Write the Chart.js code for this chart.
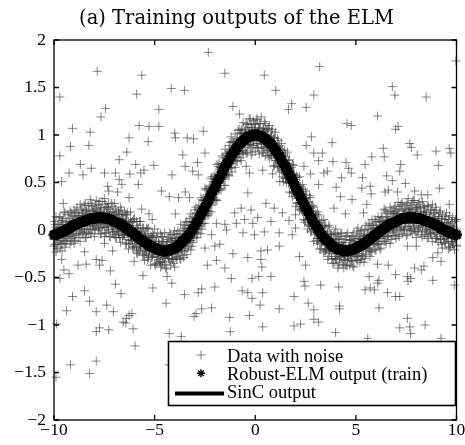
<!DOCTYPE html>
<html>
<head>
<meta charset="utf-8">
<title>Training outputs of the ELM</title>
<script src="https://cdn.jsdelivr.net/npm/chart.js@4.4.1/dist/chart.umd.min.js"></script>
<style>
  html, body { margin: 0; padding: 0; background: #fff; }
  #wrap { width: 465px; height: 445px; }
</style>
</head>
<body>
<div id="wrap"><canvas id="elmChart" width="465" height="445"></canvas></div>
<script>
// Training inputs of the SinC set
const trainX = [
  -10, -9.9, -9.8, -9.7, -9.6, -9.5, -9.4, -9.3, -9.2, -9.1, -9, -8.9, -8.8, -8.7, -8.6, -8.5, -8.4, -8.3, -8.2, -8.1,
  -8, -7.9, -7.8, -7.7, -7.6, -7.5, -7.4, -7.3, -7.2, -7.1, -7, -6.9, -6.8, -6.7, -6.6, -6.5, -6.4, -6.3, -6.2, -6.1,
  -6, -5.9, -5.8, -5.7, -5.6, -5.5, -5.4, -5.3, -5.2, -5.1, -5, -4.9, -4.8, -4.7, -4.6, -4.5, -4.4, -4.3, -4.2, -4.1,
  -4, -3.9, -3.8, -3.7, -3.6, -3.5, -3.4, -3.3, -3.2, -3.1, -3, -2.9, -2.8, -2.7, -2.6, -2.5, -2.4, -2.3, -2.2, -2.1,
  -2, -1.9, -1.8, -1.7, -1.6, -1.5, -1.4, -1.3, -1.2, -1.1, -1, -0.9, -0.8, -0.7, -0.6, -0.5, -0.4, -0.3, -0.2, -0.1,
  0,
  0.1, 0.2, 0.3, 0.4, 0.5, 0.6, 0.7, 0.8, 0.9, 1, 1.1, 1.2, 1.3, 1.4, 1.5, 1.6, 1.7, 1.8, 1.9, 2,
  2.1, 2.2, 2.3, 2.4, 2.5, 2.6, 2.7, 2.8, 2.9, 3, 3.1, 3.2, 3.3, 3.4, 3.5, 3.6, 3.7, 3.8, 3.9, 4,
  4.1, 4.2, 4.3, 4.4, 4.5, 4.6, 4.7, 4.8, 4.9, 5, 5.1, 5.2, 5.3, 5.4, 5.5, 5.6, 5.7, 5.8, 5.9, 6,
  6.1, 6.2, 6.3, 6.4, 6.5, 6.6, 6.7, 6.8, 6.9, 7, 7.1, 7.2, 7.3, 7.4, 7.5, 7.6, 7.7, 7.8, 7.9, 8,
  8.1, 8.2, 8.3, 8.4, 8.5, 8.6, 8.7, 8.8, 8.9, 9, 9.1, 9.2, 9.3, 9.4, 9.5, 9.6, 9.7, 9.8, 9.9, 10
];

// Noisy targets, four samples per input
const noisyA = [
  .09, .14, .06, .14, .1, .19, .09, .16, .2, .15, .21, .19, .15, .27, .21, .26, .2, .26, .32, .25,
  .21, .31, .27, .24, .3, .33, .24, .28, .19, .25, .28, .18, .2, .24, .16, .19, .16, .09, .19, .09,
  .12, .09, .02, .09, .02, -.05, .02, .02, -.06, -.04, .01, -.08, -.12, -.04, -.07, -.03, -.12, -.08, -.05, -.09,
  -.01, -.04, -.08, .06, 0, .05, .09, .05, .17, .14, .21, .17, .26, .34, .31, .44, .43, .44, .54, .51,
  .58, .69, .7, .66, .76, .85, .81, .89, .98, .93, 1.01, .96, 1.06, 1.05, 1.13, 1.06, 1.11, 1.17, 1.11, 1.15,
  1.11,
  1.17, 1.12, 1.19, 1.06, 1.12, 1.06, 1.1, 1.04, .97, 1.03, .96, .89, .91, .78, .8, .82, .74, .66, .68, .55,
  .55, .56, .43, .43, .41, .29, .36, .25, .24, .17, .19, .08, .1, .11, .04, -.04, .03, -.05, -.05, .01,
  -.04, -.09, -.03, -.13, -.07, -.03, -.1, -.07, -.03, -.09, .02, -.04, 0, -.06, .05, .01, .05, .11, .05, .09,
  .14, .09, .13, .22, .19, .14, .24, .19, .23, .2, .29, .25, .29, .2, .26, .33, .23, .29, .31, .24,
  .27, .23, .3, .24, .18, .26, .21, .27, .18, .21, .14, .2, .16, .11, .18, .11, .05, .13, .09, .11
];
const noisyB = [
  -.02, .03, -.04, .03, .08, .01, .05, 0, .09, .08, .14, .07, .13, .06, .17, .12, .2, .16, .12, .19,
  .16, .22, .15, .19, .12, .21, .15, .22, .12, .15, .16, .08, .16, .1, .11, .01, .1, .02, .09, .02,
  -.04, .01, -.05, -.01, -.12, -.07, -.1, -.08, -.17, -.08, -.14, -.18, -.14, -.23, -.13, -.19, -.16, -.2, -.13, -.16,
  -.09, -.18, -.11, -.07, -.1, -.01, -.09, .01, .01, .09, .09, .18, .13, .23, .25, .22, .37, .34, .43, .44,
  .53, .5, .64, .62, .69, .68, .75, .83, .77, .87, .87, .95, .92, 1.02, .98, 1.03, .97, 1.04, 1.08, 1.01,
  1.06,
  1.03, 1.07, .98, 1.07, 1, 1.01, .94, .99, .92, .84, .87, .86, .77, .68, .77, .66, .65, .55, .59, .5,
  .43, .43, .4, .28, .34, .23, .23, .11, .13, .14, .05, -.01, .03, -.02, -.08, -.02, -.11, -.09, -.18, -.1,
  -.15, -.2, -.13, -.18, -.16, -.24, -.11, -.18, -.13, -.17, -.09, -.12, -.16, -.06, -.09, -.05, -.09, .02, -.03, .02,
  -.04, .08, .05, .04, .11, .09, .12, .07, .18, .12, .17, .12, .21, .17, .11, .21, .17, .19, .15, .22,
  .15, .19, .11, .19, .14, .1, .16, .11, .12, .04, .14, .05, .08, .02, .08, .03, -.03, .04, -.01, .01
];
const noisyC = [
  -.1, -.15, -.06, -.11, -.14, -.05, -.07, .01, -.07, .01, -.06, 0, .06, -.02, .04, .01, -.02, .08, .05, .1,
  .03, .09, .02, .07, .13, .03, .07, .04, .1, -.02, .06, .01, -.02, .04, -.06, -.03, -.02, -.1, -.01, -.11,
  -.1, -.18, -.11, -.17, -.12, -.22, -.2, -.27, -.19, -.28, -.23, -.28, -.21, -.33, -.27, -.29, -.25, -.3, -.22, -.31,
  -.25, -.28, -.18, -.22, -.16, -.22, -.13, -.05, -.11, -.02, -.02, -.03, .11, .06, .14, .22, .2, .2, .33, .32,
  .4, .5, .43, .55, .55, .57, .69, .68, .66, .79, .76, .83, .81, .87, .83, .96, .9, .96, .89, .94,
  .98,
  .91, .95, .87, .9, .96, .84, .87, .82, .86, .73, .78, .72, .65, .68, .55, .57, .51, .54, .4, .41,
  .33, .36, .21, .22, .21, .11, .04, .1, .01, 0, -.09, -.02, -.13, -.12, -.21, -.13, -.2, -.25, -.21, -.31,
  -.25, -.28, -.23, -.32, -.22, -.3, -.25, -.32, -.26, -.2, -.27, -.2, -.28, -.19, -.2, -.13, -.2, -.08, -.14, -.09,
  -.14, -.07, -.01, -.07, 0, -.07, -.01, .02, .06, -.01, .1, .03, .08, .01, .07, .12, .04, .1, .01, .07,
  .05, .1, .01, .1, .01, .05, -.03, .01, .05, -.04, .01, -.1, -.04, -.07, -.03, -.12, -.03, -.12, -.09, -.16
];
const noisyD = [
  -.17, -.23, -.13, -.19, -.22, -.12, -.14, -.07, -.15, -.09, -.14, -.04, -.08, -.12, -.03, 0, -.08, -.03, -.04, .01,
  -.07, .05, 0, -.04, .03, -.07, -.03, 0, -.07, .01, -.05, -.08, -.04, -.13, -.08, -.05, -.15, -.2, -.11, -.18,
  -.17, -.24, -.22, -.19, -.27, -.32, -.25, -.29, -.37, -.26, -.36, -.35, -.31, -.39, -.34, -.36, -.41, -.3, -.37, -.31,
  -.39, -.31, -.24, -.31, -.27, -.2, -.26, -.17, -.21, -.13, -.04, -.08, .01, -.04, .07, .07, .2, .17, .19, .31,
  .31, .31, .42, .42, .53, .47, .59, .57, .65, .73, .66, .72, .8, .73, .8, .84, .81, .9, .79, .89,
  .83,
  .87, .8, .91, .82, .78, .84, .76, .78, .67, .75, .67, .61, .63, .51, .54, .54, .4, .39, .4, .25,
  .29, .21, .23, .11, .1, .01, .05, -.01, -.12, -.03, -.14, -.2, -.15, -.24, -.22, -.31, -.23, -.3, -.35, -.3,
  -.4, -.34, -.29, -.4, -.37, -.32, -.37, -.33, -.39, -.28, -.32, -.34, -.27, -.34, -.26, -.19, -.28, -.23, -.16, -.21,
  -.15, -.2, -.09, -.12, -.14, -.06, -.14, -.06, 0, -.09, -.05, .01, -.04, 0, -.06, .04, -.01, -.04, .02, -.08,
  -.01, .04, -.07, -.05, -.01, -.07, -.04, -.12, -.03, -.09, -.13, -.09, -.19, -.13, -.09, -.2, -.18, -.14, -.21, -.17
];

// Inputs lying between the ones above, with three noisy samples each
const midX = [
  -9.95, -9.85, -9.75, -9.65, -9.55, -9.45, -9.35, -9.25, -9.15, -9.05, -8.95, -8.85, -8.75, -8.65, -8.55, -8.45, -8.35, -8.25, -8.15, -8.05,
  -7.95, -7.85, -7.75, -7.65, -7.55, -7.45, -7.35, -7.25, -7.15, -7.05, -6.95, -6.85, -6.75, -6.65, -6.55, -6.45, -6.35, -6.25, -6.15, -6.05,
  -5.95, -5.85, -5.75, -5.65, -5.55, -5.45, -5.35, -5.25, -5.15, -5.05, -4.95, -4.85, -4.75, -4.65, -4.55, -4.45, -4.35, -4.25, -4.15, -4.05,
  -3.95, -3.85, -3.75, -3.65, -3.55, -3.45, -3.35, -3.25, -3.15, -3.05, -2.95, -2.85, -2.75, -2.65, -2.55, -2.45, -2.35, -2.25, -2.15, -2.05,
  -1.95, -1.85, -1.75, -1.65, -1.55, -1.45, -1.35, -1.25, -1.15, -1.05, -0.95, -0.85, -0.75, -0.65, -0.55, -0.45, -0.35, -0.25, -0.15, -0.05,
  0.05, 0.15, 0.25, 0.35, 0.45, 0.55, 0.65, 0.75, 0.85, 0.95, 1.05, 1.15, 1.25, 1.35, 1.45, 1.55, 1.65, 1.75, 1.85, 1.95,
  2.05, 2.15, 2.25, 2.35, 2.45, 2.55, 2.65, 2.75, 2.85, 2.95, 3.05, 3.15, 3.25, 3.35, 3.45, 3.55, 3.65, 3.75, 3.85, 3.95,
  4.05, 4.15, 4.25, 4.35, 4.45, 4.55, 4.65, 4.75, 4.85, 4.95, 5.05, 5.15, 5.25, 5.35, 5.45, 5.55, 5.65, 5.75, 5.85, 5.95,
  6.05, 6.15, 6.25, 6.35, 6.45, 6.55, 6.65, 6.75, 6.85, 6.95, 7.05, 7.15, 7.25, 7.35, 7.45, 7.55, 7.65, 7.75, 7.85, 7.95,
  8.05, 8.15, 8.25, 8.35, 8.45, 8.55, 8.65, 8.75, 8.85, 8.95, 9.05, 9.15, 9.25, 9.35, 9.45, 9.55, 9.65, 9.75, 9.85, 9.95
];
const noisyE = [
  .06, .01, .13, .06, .12, .18, .06, .12, .18, .08, .18, .24, .15, .22, .18, .28, .16, .22, .28, .2,
  .26, .19, .3, .23, .17, .27, .24, .18, .28, .19, .22, .12, .17, .21, .12, .16, .18, .05, .08, .11,
  -.01, .05, .09, -.03, .02, -.04, .01, -.11, -.07, -.06, -.12, -.03, -.15, -.07, -.12, -.18, -.1, -.03, -.11, -.05,
  -.11, -.01, -.04, -.08, .02, .08, .02, .12, .09, .09, .24, .22, .18, .32, .31, .42, .37, .46, .56, .56,
  .53, .67, .66, .78, .72, .8, .78, .92, .93, .92, .9, 1.05, 1.02, 1.06, 1.02, 1.12, 1.08, 1.17, 1.06, 1.12,
  1.16, 1.08, 1.12, 1.03, 1.14, 1.05, 1.07, .98, 1.06, .97, .87, .94, .85, .84, .84, .7, .73, .64, .69, .58,
  .57, .44, .46, .48, .33, .37, .3, .23, .26, .1, .16, .16, .05, .04, .05, -.05, .05, -.04, -.12, -.03,
  -.1, -.07, -.04, -.16, -.1, -.06, -.18, -.11, -.06, -.12, -.01, -.07, -.01, -.1, 0, -.05, .07, 0, .05, .11,
  .02, .09, .14, .09, .21, .17, .1, .2, .17, .25, .17, .22, .27, .16, .23, .28, .22, .26, .31, .21,
  .24, .29, .18, .25, .19, .25, .13, .21, .18, .24, .1, .18, .12, .04, .14, .07, .15, .09, .03, .11
];
const noisyF = [
  -.03, -.08, .02, -.03, .02, -.06, .04, .02, 0, .1, .04, .08, .03, .11, .08, .15, .07, .13, .12, .06,
  .17, .11, .19, .08, .14, .09, .15, .1, .15, .04, .1, .07, .02, .11, .02, .07, -.04, 0, -.05, -.01,
  -.06, -.02, -.15, -.08, -.15, -.09, -.15, -.21, -.12, -.21, -.17, -.24, -.2, -.17, -.23, -.28, -.2, -.17, -.23, -.19,
  -.12, -.21, -.14, -.15, -.06, -.14, -.03, -.03, -.07, .05, .1, .09, .11, .24, .18, .27, .35, .33, .42, .38,
  .48, .56, .53, .66, .58, .7, .71, .81, .75, .86, .87, .83, .97, .91, .95, 1.01, .95, .93, 1.02, 1.05,
  .98, 1.03, .94, .99, 1.03, .91, .93, .95, .87, .8, .88, .81, .73, .75, .63, .7, .61, .54, .56, .44,
  .48, .38, .37, .24, .3, .22, .15, .2, .05, .07, .06, -.03, .02, -.1, -.1, -.09, -.19, -.11, -.17, -.15,
  -.22, -.14, -.23, -.18, -.27, -.21, -.17, -.25, -.2, -.17, -.25, -.16, -.1, -.16, -.16, -.08, -.15, -.08, -.02, -.07,
  -.03, -.07, .03, .01, .01, .1, .01, .09, .01, .1, .15, .07, .11, .16, .07, .14, .19, .11, .09, .16,
  .16, .12, .07, .16, .09, .03, .11, .09, .04, .12, .02, .07, -.03, .02, 0, -.05, .03, -.09, -.01, -.04
];
const noisyG = [
  -.15, -.2, -.08, -.15, -.09, -.18, -.11, -.04, -.12, -.05, -.11, .03, -.04, .01, -.05, -.08, .05, .01, -.04, .04,
  0, .09, .02, -.04, .06, -.03, .03, -.07, .05, -.02, -.08, -.01, -.08, -.01, -.06, -.14, -.03, -.14, -.11, -.19,
  -.12, -.25, -.21, -.15, -.26, -.23, -.31, -.22, -.29, -.23, -.37, -.29, -.34, -.37, -.3, -.4, -.27, -.33, -.3, -.35,
  -.29, -.23, -.3, -.22, -.29, -.13, -.19, -.11, -.17, -.09, .01, -.04, .04, .01, .15, .15, .15, .31, .26, .34,
  .32, .44, .44, .55, .47, .58, .58, .7, .61, .74, .73, .81, .76, .82, .91, .81, .9, .87, .82, .94,
  .91, .86, .95, .81, .86, .88, .78, .79, .83, .68, .73, .66, .7, .56, .6, .5, .49, .52, .35, .39,
  .28, .34, .22, .2, .08, .15, .06, -.02, .06, -.05, -.11, -.09, -.2, -.12, -.22, -.2, -.28, -.2, -.35, -.28,
  -.31, -.37, -.28, -.36, -.31, -.38, -.27, -.32, -.38, -.28, -.32, -.22, -.31, -.25, -.3, -.18, -.22, -.23, -.14, -.21,
  -.12, -.15, -.19, -.05, -.12, -.07, .01, -.1, -.03, -.06, .03, -.07, .02, 0, .07, -.05, .02, 0, .07, -.02,
  -.02, .03, -.05, .07, -.02, -.09, 0, -.05, .01, -.09, -.07, -.02, -.15, -.1, -.14, -.08, -.18, -.12, -.16, -.09
];

// Outliers mixed into the training targets
const outliers = [
  [-7.85, 1.67], [-5.64, 1.63], [-9.71, 1.4], [-4.17, 1.49], [-3.52, 1.47], [-5.89, 1.43], [-7.44, 1.28], [-7.66, 1.19],
  [-4.79, 1.27], [-9.08, 1.07], [-8.2, 1.03], [-5.77, 1.1], [-5.28, 1.09], [-4.79, 1.09], [-6.27, .97], [-5.32, .93],
  [-4, 1.02], [-3.97, .97], [-3.38, .97], [-9.18, .88], [-8.27, .89], [-9.71, .78], [-6.38, .82], [-3.6, .79],
  [-8.69, .69], [-8.15, .65], [-6.76, .74], [-5.94, .69], [-5.53, .63], [-5.04, .68], [-3.48, .67], [-9.25, .6],
  [-8.56, .58], [-7.49, .6], [-6.95, .6], [-6.23, .59], [-5.69, .6], [-4.14, .58], [-9.62, .51], [-6.76, .53],
  [-6.63, .48], [-5.81, .48], [-7.33, .46], [-7.28, .41], [-6.84, .4], [-4.66, .41], [-3.48, .4], [-6.27, .34],
  [-4.27, .35], [-3.81, .34], [-5.64, .22], [-5.28, .17], [-5.12, .11], [-3.97, .17], [-9.54, .28],
  [-2.33, 1.87], [-1.51, 1.65], [.45, 1.63], [1.02, 1.47], [3.2, 1.72], [2.91, 1.42], [-1.11, 1.3], [-.78, 1.22],
  [1.81, 1.33], [1.65, 1.27], [2.53, 1.29], [-2.58, 1.04], [-3.07, .96], [2.79, .98], [2.53, .89], [-2.5, .81],
  [-2.87, .71], [-3.11, .62], [-2.83, .58], [2.91, .81], [3.15, .73], [2.42, .67], [2.74, .59], [-.45, .67],
  [-.29, .6], [.37, .63], [.86, .59], [1.22, .51], [-.37, .39], [.53, .28], [.94, .23], [1.35, .18],
  [-.7, .23], [-.21, .21], [-1.02, .18], [.12, .13], [-.53, .11], [-.12, .07], [-.94, .07], [-1.51, .06],
  [.78, .09], [1.68, .1], [2, .16], [-3.27, .34], [-1.93, .07], [2, .02], [3.15, .48], [2.74, .34],
  [6.81, 1.51], [6.94, 1.42], [8.49, 1.4], [9.97, 1.78], [6.08, 1.2], [4.56, 1.12], [4.77, 1.1], [7.1, 1.09],
  [6.97, 1.06], [3.82, .92], [7.68, .91], [7.76, .87], [6.36, .86], [3.33, .81], [8.05, .79], [8.98, .83],
  [9.64, .86], [9.72, .81], [6.41, .77], [5.79, .77], [3.86, .72], [4.51, .71], [5.46, .69], [7.23, .69],
  [9.1, .68], [4.64, .65], [7.18, .62], [3.41, .6], [3.58, .62], [4.77, .6], [4.29, .55], [5.33, .55],
  [6.53, .57], [6.81, .52], [7.46, .49], [4.02, .45], [5.3, .44], [5.71, .46], [6.61, .42], [9.15, .44],
  [5.76, .38], [6.45, .4], [7.07, .4], [7.92, .41], [4.24, .35], [4.81, .32], [3.91, .23], [5.54, .27],
  [9.64, .27], [4.48, .17], [5.38, .18], [8.25, .37], [8.57, .37],
  [-8.48, -.23], [-7.09, -.22], [-7.49, -.14], [-9.62, -.31], [-8.81, -.37], [-8.4, -.36], [-7.9, -.31], [-7.61, -.32],
  [-7.74, -.37], [-9.51, -.42], [-9.25, -.46], [-9.71, -.51], [-7.2, -.43], [-6.02, -.33], [-5.58, -.48], [-4.38, -.49],
  [-4.14, -.56], [-6.95, -.57], [-5.09, -.61], [-8.48, -.64], [-9.08, -.7], [-6.67, -.67], [-8.23, -.75], [-3.52, -.68],
  [-7.38, -.79], [-4.43, -.77], [-9.38, -.85], [-7.9, -.86], [-7.05, -.86], [-6.27, -.9], [-6.4, -.93], [-6.56, -.97],
  [-6.43, -.98], [-6.07, -1.04], [-7.74, -1.03], [-7.9, -1.07], [-7.28, -1.05], [-4.27, -1.09], [-3.68, -1.12], [-5.97, -1.22],
  [-9.18, -1.42], [-7.9, -1.38], [-8.23, -1.51], [-9.9, -1.55], [-4.27, -1.42], [-9.87, -.99], [-6.13, -.88],
  [-2.17, -.05], [-1.43, 0], [-.61, -.03], [-.04, -.05], [.45, -.02], [1.19, -.03], [1.84, -.05], [-2.5, -.19],
  [-2.01, -.17], [-1.76, -.15], [-1.11, -.25], [-.37, -.29], [.28, -.22], [.61, -.21], [.28, -.31], [1.19, -.17],
  [2.2, -.28], [2.5, -.37], [-2.38, -.37], [-1.93, -.32], [-1.51, -.4], [.33, -.39], [-1.19, -.51], [-.16, -.51],
  [.17, -.49], [.78, -.49], [2.42, -.54], [2.47, -.59], [-2.01, -.6], [-2.66, -.62], [-2.83, -.66], [-.65, -.64],
  [-.37, -.66], [-.16, -.72], [.37, -.66], [1.93, -.7], [.24, -.79], [1.19, -.83], [2.63, -.77], [2.91, -.84],
  [-2.17, -.82], [-2.66, -.83], [-2.94, -.88], [-1.27, -.92], [-.29, -.9], [-3.04, -.91], [.37, -1.02], [-1.24, -1.07],
  [1.93, -1.01], [2.25, -.99], [2.91, -.94], [3.15, -.97],
  [7.56, -.17], [8, -.17], [8.82, -.29], [9.23, -.33], [9.07, -.24], [6.08, -.36], [6.61, -.37], [5.66, -.49],
  [6.15, -.53], [6.08, -.56], [6.97, -.47], [7.92, -.4], [8.25, -.42], [8.38, -.38], [7.56, -.49], [7.72, -.51],
  [7.59, -.54], [8.82, -.53], [3.25, -.58], [4.15, -.6], [5.46, -.63], [5.71, -.61], [5.92, -.63], [6.57, -.66],
  [6.97, -.7], [7.18, -.7], [4.19, -.8], [4.19, -.83], [6.15, -.82], [7.56, -.93], [7.18, -1.03], [7.68, -1.02],
  [7.72, -1.09], [8.44, -1], [3.99, -1.08], [5.59, -1.14], [9.23, -1.14], [9.89, -.58]
];

// Robust-ELM predictions at the training inputs
const elmOutput = [
  -.05, -.05, -.04, -.03, -.02, -.01, 0, .01, .02, .04, .05, .06, .07, .08, .09, .09, .1, .11, .12, .12,
  .12, .13, .13, .13, .13, .13, .12, .12, .11, .1, .09, .08, .07, .06, .05, .03, .02, 0, -.01, -.03,
  -.05, -.06, -.08, -.1, -.11, -.13, -.14, -.16, -.17, -.18, -.19, -.2, -.21, -.21, -.22, -.22, -.22, -.21, -.21, -.2,
  -.19, -.18, -.16, -.14, -.12, -.1, -.08, -.05, -.02, .01, .05, .08, .12, .16, .2, .24, .28, .32, .37, .41,
  .45, .5, .54, .58, .62, .67, .7, .74, .78, .81, .84, .87, .9, .92, .94, .96, .97, .99, .99, 1,
  1,
  1, .99, .99, .97, .96, .94, .92, .9, .87, .84, .81, .78, .74, .7, .67, .62, .58, .54, .5, .45,
  .41, .37, .32, .28, .24, .2, .16, .12, .08, .05, .01, -.02, -.05, -.08, -.1, -.12, -.14, -.16, -.18, -.19,
  -.2, -.21, -.21, -.22, -.22, -.22, -.21, -.21, -.2, -.19, -.18, -.17, -.16, -.14, -.13, -.11, -.1, -.08, -.06, -.05,
  -.03, -.01, 0, .02, .03, .05, .06, .07, .08, .09, .1, .11, .12, .12, .13, .13, .13, .13, .13, .12,
  .12, .12, .11, .1, .09, .09, .08, .07, .06, .05, .04, .02, .01, 0, -.01, -.02, -.03, -.04, -.05, -.05
];

// Clean SinC curve
const sincX = [
  -10, -9.8, -9.6, -9.4, -9.2, -9, -8.8, -8.6, -8.4, -8.2, -8, -7.8, -7.6, -7.4, -7.2, -7, -6.8,
  -6.6, -6.4, -6.2, -6, -5.8, -5.6, -5.4, -5.2, -5, -4.8, -4.6, -4.4, -4.2, -4, -3.8, -3.6, -3.4,
  -3.2, -3, -2.8, -2.6, -2.4, -2.2, -2, -1.8, -1.6, -1.4, -1.2, -1, -0.8, -0.6, -0.4, -0.2, 0,
  0.2, 0.4, 0.6, 0.8, 1, 1.2, 1.4, 1.6, 1.8, 2, 2.2, 2.4, 2.6, 2.8, 3, 3.2, 3.4,
  3.6, 3.8, 4, 4.2, 4.4, 4.6, 4.8, 5, 5.2, 5.4, 5.6, 5.8, 6, 6.2, 6.4, 6.6, 6.8,
  7, 7.2, 7.4, 7.6, 7.8, 8, 8.2, 8.4, 8.6, 8.8, 9, 9.2, 9.4, 9.6, 9.8, 10
];
const sincY = [
  -.054, -.037, -.018, .003, .024, .046, .066, .085, .102, .115, .124, .128, .127, .121, .11, .094, .073,
  .047, .018, -.013, -.047, -.08, -.113, -.143, -.17, -.192, -.208, -.216, -.216, -.208, -.189, -.161, -.123, -.075,
  -.018, .047, .12, .198, .281, .367, .455, .541, .625, .704, .777, .841, .897, .941, .974, .993, 1,
  .993, .974, .941, .897, .841, .777, .704, .625, .541, .455, .367, .281, .198, .12, .047, -.018, -.075,
  -.123, -.161, -.189, -.208, -.216, -.216, -.208, -.192, -.17, -.143, -.113, -.08, -.047, -.013, .018, .047, .073,
  .094, .11, .121, .127, .128, .124, .115, .102, .085, .066, .046, .024, .003, -.018, -.037, -.054
];

// Axis ticks
const xTicks = [-10, -5, 0, 5, 10];
const xTickLabels = ['\u221210', '\u22125', '0', '5', '10'];
const yTicks = [-2, -1.5, -1, -0.5, 0, 0.5, 1, 1.5, 2];
const yTickLabels = ['\u22122', '\u22121.5', '\u22121', '\u22120.5', '0', '0.5', '1', '1.5', '2'];

const legendLabels = ['Data with noise', 'Robust-ELM output (train)', 'SinC output'];

// translucent grey so that crowded crosses build up a darker band
const noiseColor = 'rgba(60, 60, 60, 0.62)';
const serif = '"Liberation Serif", "Times New Roman", serif';

// Build point lists for the datasets
const noisyPoints = [];
[noisyA, noisyB, noisyC, noisyD].forEach(series => {
    series.forEach((y, i) => noisyPoints.push({ x: trainX[i], y: y }));
});
[noisyE, noisyF, noisyG].forEach(series => {
    series.forEach((y, i) => noisyPoints.push({ x: midX[i], y: y }));
});
outliers.forEach(p => noisyPoints.push({ x: p[0], y: p[1] }));
const elmPoints = trainX.map((x, i) => ({ x: x, y: elmOutput[i] }));
const sincPoints = sincX.map((x, i) => ({ x: x, y: sincY[i] }));

// Axes box with inward tick marks on all four sides
const frameTicks = {
    id: 'frameTicks',
    afterDatasetsDraw(chart) {
        const { ctx, chartArea: a, scales } = chart;
        const len = 5;
        ctx.save();
        ctx.strokeStyle = '#000';
        ctx.lineWidth = 1.3;
        ctx.strokeRect(a.left, a.top, a.right - a.left, a.bottom - a.top);
        ctx.beginPath();
        xTicks.forEach(v => {
            const px = scales.x.getPixelForValue(v);
            ctx.moveTo(px, a.bottom); ctx.lineTo(px, a.bottom - len);
            ctx.moveTo(px, a.top); ctx.lineTo(px, a.top + len);
        });
        yTicks.forEach(v => {
            const py = scales.y.getPixelForValue(v);
            ctx.moveTo(a.left, py); ctx.lineTo(a.left + len, py);
            ctx.moveTo(a.right, py); ctx.lineTo(a.right - len, py);
        });
        ctx.stroke();
        ctx.restore();
    }
};

// Boxed legend in the lower right corner of the plot
const boxedLegend = {
    id: 'boxedLegend',
    afterDraw(chart) {
        const { ctx, chartArea: a } = chart;
        const right = a.right - 1;
        const bottom = a.bottom - 14.5;
        const left = right - 287;
        const top = bottom - 64;
        const mx = left + 32.5;
        ctx.save();
        ctx.fillStyle = '#fff';
        ctx.fillRect(left, top, right - left, bottom - top);
        ctx.strokeStyle = '#000';
        ctx.lineWidth = 1.6;
        ctx.strokeRect(left, top, right - left, bottom - top);

        // '+' sample
        let cy = top + 13.5;
        ctx.strokeStyle = noiseColor;
        ctx.lineWidth = 1;
        ctx.beginPath();
        ctx.moveTo(mx - 4.5, cy); ctx.lineTo(mx + 4.5, cy);
        ctx.moveTo(mx, cy - 4.5); ctx.lineTo(mx, cy + 4.5);
        ctx.stroke();

        // asterisk sample
        cy = top + 31.8;
        ctx.strokeStyle = '#000';
        ctx.lineWidth = 1.4;
        ctx.beginPath();
        for (let k = 0; k < 4; k++) {
            const ang = k * Math.PI / 4;
            const dx = Math.cos(ang) * 4, dy = Math.sin(ang) * 4;
            ctx.moveTo(mx - dx, cy - dy); ctx.lineTo(mx + dx, cy + dy);
        }
        ctx.stroke();

        // line sample
        cy = top + 52;
        ctx.lineWidth = 4;
        ctx.beginPath();
        ctx.moveTo(left + 6.5, cy); ctx.lineTo(left + 55.5, cy);
        ctx.stroke();

        ctx.fillStyle = '#000';
        ctx.font = '18.5px ' + serif;
        ctx.textBaseline = 'alphabetic';
        ctx.textAlign = 'left';
        legendLabels.forEach((txt, i) => ctx.fillText(txt, left + 58.5, top + 20.5 + i * 18));
        ctx.restore();
    }
};

const chartConfig = {
    type: 'scatter',
    data: {
        datasets: [
            {
                label: legendLabels[2],
                data: sincPoints,
                showLine: true,
                borderColor: '#000',
                borderWidth: 4,
                pointRadius: 0,
                tension: 0.4,
                order: 1
            },
            {
                label: legendLabels[1],
                data: elmPoints,
                pointStyle: 'star',
                pointRadius: 5.5,
                borderColor: '#000',
                backgroundColor: '#000',
                borderWidth: 3,
                clip: false,
                order: 2
            },
            {
                label: legendLabels[0],
                data: noisyPoints,
                pointStyle: 'cross',
                pointRadius: 4.5,
                borderColor: noiseColor,
                backgroundColor: noiseColor,
                borderWidth: 1,
                clip: false,
                order: 3
            }
        ]
    },
    options: {
        responsive: false,
        animation: false,
        devicePixelRatio: 1,
        events: [],
        layout: { padding: { left: 12, right: 4, top: 0, bottom: 0 } },
        plugins: {
            legend: { display: false },
            tooltip: { enabled: false },
            title: {
                display: true,
                text: '(a) Training outputs of the ELM',
                color: '#000',
                font: { family: '"DejaVu Serif", serif', size: 19.5, weight: 'normal', lineHeight: 1.2 },
                padding: { top: 7, bottom: 9.6 }
            }
        },
        scales: {
            x: {
                type: 'linear',
                min: -10,
                max: 10,
                grid: { display: false, drawTicks: false },
                border: { display: false },
                afterBuildTicks: scale => { scale.ticks = xTicks.map(v => ({ value: v })); },
                afterFit: scale => { scale.height = 25; scale.paddingLeft = 0; scale.paddingRight = 0; },
                ticks: {
                    color: '#000',
                    padding: 0,
                    autoSkip: false,
                    maxRotation: 0,
                    font: { family: serif, size: 17.5 },
                    callback: (value, index) => xTickLabels[index]
                }
            },
            y: {
                type: 'linear',
                min: -2,
                max: 2,
                grid: { display: false, drawTicks: false },
                border: { display: false },
                afterBuildTicks: scale => { scale.ticks = yTicks.map(v => ({ value: v })); },
                afterFit: scale => { scale.width = 42; scale.paddingTop = 0; scale.paddingBottom = 0; },
                ticks: {
                    color: '#000',
                    padding: 8,
                    autoSkip: false,
                    font: { family: serif, size: 17.5 },
                    callback: (value, index) => yTickLabels[index]
                }
            }
        }
    },
    plugins: [frameTicks, boxedLegend]
};

new Chart(document.getElementById('elmChart'), chartConfig);
</script>
</body>
</html>
